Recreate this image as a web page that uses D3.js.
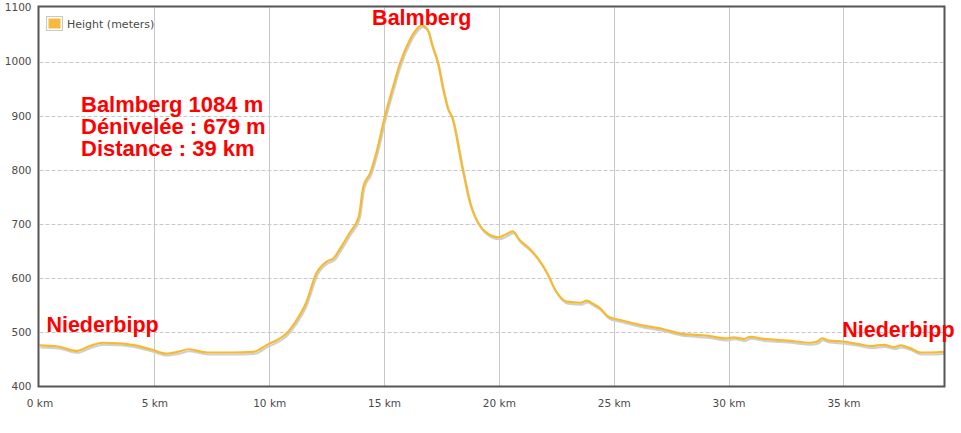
<!DOCTYPE html>
<html>
<head>
<meta charset="utf-8">
<script src="https://cdn.jsdelivr.net/npm/d3@7"></script>
<style>
  body { margin: 0; background: #fff; }
  svg { display: block; }
</style>
</head>
<body>
<div id="chart"></div>
<script>
// profile points: distance (km) and height (m)
const distKm = [0, 0.8, 1.6, 2.2, 2.75, 3.4, 4.06, 4.9, 5.5, 6.0, 6.5, 7.3, 8.4, 9.3, 9.9,
  10.3, 10.75, 11.1, 11.6, 12.06, 12.5, 12.8, 13.1, 13.5, 13.9, 14.1, 14.4, 14.7, 15.04, 15.4,
  15.7, 16.1, 16.4, 16.64, 16.9, 17.1, 17.35, 17.58, 17.8, 17.95, 18.4, 18.75, 19.2, 19.47, 19.98,
  20.3, 20.6, 20.9, 21.36, 21.7, 22.1, 22.45, 22.96, 23.54, 23.83, 24.1, 24.4, 24.77, 25.28, 26.15,
  27.17, 27.9, 29.06, 29.93, 30.2, 30.66, 30.95, 31.53, 32.55, 33.57, 33.86, 34.07, 34.36, 35.0,
  35.6, 36.2, 36.76, 37.2, 37.5, 37.9, 38.36, 38.8, 39.38];
const heightM = [475, 473, 465, 474, 480, 479, 476, 467, 460, 463, 468, 462, 462, 463, 476,
  484, 497, 516, 553, 609, 630, 636, 655, 683, 713, 769, 794, 837, 899, 954,
  997, 1038, 1059, 1067, 1059, 1030, 997, 948, 911, 899, 806, 738, 695, 683, 675,
  680, 686, 670, 653, 636, 609, 578, 556, 554, 558, 552, 544, 528, 522, 513,
  505, 497, 493, 488, 490, 487, 491, 487, 484, 480, 482, 488, 484, 482,
  478, 474, 476, 472, 475, 470, 462, 462, 463];

const xTicks = [0, 5, 10, 15, 20, 25, 30, 35];
const yTicks = [400, 500, 600, 700, 800, 900, 1000, 1100];
const seriesName = 'Height (meters)';

// red annotations
const placeLabels = [
  { text: 'Balmberg', km: 16.64, h: 1067, anchor: 'middle', dy: -0.5 },
  { text: 'Niederbipp', km: 0.3, h: 475, anchor: 'start', dy: -13 },
  { text: 'Niederbipp', km: 34.95, h: 482, anchor: 'start', dy: -5 }
];
const infoLines = ['Balmberg 1084 m', 'Dénivelée : 679 m', 'Distance : 39 km'];

const width = 961, height = 433;
const plot = { left: 39.5, right: 944, top: 7.5, bottom: 386 };

const svg = d3.select('#chart').append('svg')
  .attr('width', width)
  .attr('height', height);

const x = d3.scaleLinear().domain([0, 39.38]).range([plot.left, plot.right]);
const y = d3.scaleLinear().domain([400, 1100]).range([plot.bottom, plot.top]);

// grid
svg.append('g')
  .selectAll('line')
  .data(xTicks.slice(1))
  .enter().append('line')
    .attr('x1', d => Math.round(x(d)) + 0.5)
    .attr('x2', d => Math.round(x(d)) + 0.5)
    .attr('y1', plot.top)
    .attr('y2', plot.bottom)
    .attr('stroke', '#c8c8c8');

svg.append('g')
  .selectAll('line')
  .data(yTicks.slice(1, -1))
  .enter().append('line')
    .attr('x1', plot.left)
    .attr('x2', plot.right)
    .attr('y1', d => Math.round(y(d)) + 0.5)
    .attr('y2', d => Math.round(y(d)) + 0.5)
    .attr('stroke', '#c8c8c8')
    .attr('stroke-dasharray', '4,2');

// axes (text only, the frame is drawn separately)
const xAxis = svg.append('g')
  .attr('transform', 'translate(0,' + plot.bottom + ')')
  .call(d3.axisBottom(x).tickValues(xTicks).tickSize(0).tickPadding(14).tickFormat(d => d + ' km'));
const yAxis = svg.append('g')
  .attr('transform', 'translate(' + plot.left + ',0)')
  .call(d3.axisLeft(y).tickValues(yTicks).tickSize(0).tickPadding(8).tickFormat(d3.format('d')));
[xAxis, yAxis].forEach(a => {
  a.select('.domain').remove();
  a.selectAll('text')
    .style('font-family', '"DejaVu Sans", Verdana, sans-serif')
    .style('font-size', '10.5px')
    .attr('fill', '#4a4a4a');
});

// profile line with a grey shadow
const line = d3.line()
  .x(d => x(d[0]))
  .y(d => y(d[1]))
  .curve(d3.curveMonotoneX);
const pts = distKm.map((k, i) => [k, heightM[i]]);

svg.append('path')
  .datum(pts)
  .attr('d', line)
  .attr('transform', 'translate(1,2)')
  .attr('fill', 'none')
  .attr('stroke', '#cfcfcf')
  .attr('stroke-width', 2);
svg.append('path')
  .datum(pts)
  .attr('d', line)
  .attr('fill', 'none')
  .attr('stroke', '#f6b930')
  .attr('stroke-width', 2.2);

// frame
svg.append('rect')
  .attr('x', plot.left - 1)
  .attr('y', plot.top - 1)
  .attr('width', plot.right - plot.left + 1.5)
  .attr('height', plot.bottom - plot.top + 1.5)
  .attr('fill', 'none')
  .attr('stroke', '#555')
  .attr('stroke-width', 2);

// legend
const legend = svg.append('g').attr('transform', 'translate(46,16)');
legend.append('rect')
  .attr('x', 0.5).attr('y', 0.5)
  .attr('width', 16).attr('height', 14)
  .attr('fill', '#fff')
  .attr('stroke', '#c8c8c8');
legend.append('rect')
  .attr('x', 2.5).attr('y', 2.5)
  .attr('width', 12).attr('height', 10)
  .attr('fill', '#f9b93c');
legend.append('text')
  .attr('x', 21).attr('y', 11.5)
  .style('font-family', '"DejaVu Sans", Verdana, sans-serif')
  .style('font-size', '11px')
  .attr('fill', '#4a4a4a')
  .text(seriesName);

// annotations
const redFont = '"Liberation Sans", Arial, sans-serif';
svg.append('g')
  .selectAll('text')
  .data(placeLabels)
  .enter().append('text')
    .attr('x', d => x(d.km))
    .attr('y', d => y(d.h) + d.dy)
    .attr('text-anchor', d => d.anchor)
    .style('font-family', redFont)
    .style('font-weight', 'bold')
    .style('font-size', '21.5px')
    .attr('fill', '#ff0000')
    .text(d => d.text);

svg.append('g')
  .selectAll('text')
  .data(infoLines)
  .enter().append('text')
    .attr('x', 81)
    .attr('y', (d, i) => 112 + i * 22)
    .style('font-family', redFont)
    .style('font-weight', 'bold')
    .style('font-size', '22px')
    .attr('fill', '#ff0000')
    .text(d => d);
</script>
</body>
</html>
